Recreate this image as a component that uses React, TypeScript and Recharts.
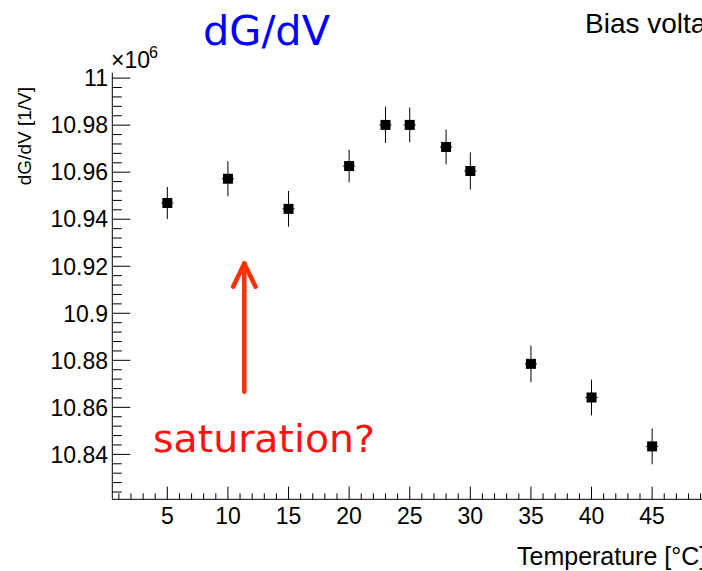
import React from 'react';
import { ScatterChart, Scatter, XAxis, YAxis, ErrorBar, ReferenceLine } from 'recharts';

// ---- data ----
const temperatures = [5, 10, 15, 20, 23, 25, 28, 30, 35, 40, 45];
const dGdV = [10.9469, 10.9572, 10.9444, 10.9626, 10.9801, 10.9801, 10.9707, 10.9605, 10.8785, 10.8642, 10.8434];
const dGdVErr = [0.0068, 0.0075, 0.0076, 0.0069, 0.0077, 0.0074, 0.0074, 0.0079, 0.0078, 0.0076, 0.0076];
const tempErr = [0.5, 0.5, 0.5, 0.5, 0.5, 0.5, 0.5, 0.5, 0.5, 0.5, 0.5];

const xMajorTicks = [5, 10, 15, 20, 25, 30, 35, 40, 45];
const yMajorTickLabels = ['10.84', '10.86', '10.88', '10.9', '10.92', '10.94', '10.96', '10.98', '11'];

// annotation arrow in data coordinates
const arrowX = 11.35;
const arrowYBottom = 10.8666;
const arrowYTip = 10.9212;
const arrowYWing = 10.9113;
const arrowWingX = [10.43, 12.28];

const xDomain = [0.46, 49.61];
const yDomain = [10.8209, 11.0023];

// minor tick positions (styling)
const xTicks = Array.from({ length: 49 }, (_, i) => i + 1);
const yTicks = Array.from({ length: 45 }, (_, i) => Math.round((10.824 + i * 0.004) * 1000) / 1000);

const data = temperatures.map((t, i) => ({ t, v: dGdV[i], ve: dGdVErr[i], te: tempErr[i] }));

const FONT = "'Liberation Sans', Arial, Helvetica, sans-serif";
const COMIC = "'Comic Sans MS', 'DejaVu Sans', sans-serif";

const isXMajor = (v: number) => xMajorTicks.includes(v);
const isYMajor = (v: number) => Math.round(v * 1000) % 20 === 0;
const yLabel = (v: number) => {
  const idx = yMajorTickLabels.findIndex((s) => Math.abs(parseFloat(s) - v) < 1e-6);
  return idx >= 0 ? yMajorTickLabels[idx] : String(v);
};

const BottomTick = (props: any) => {
  const { x, y, payload } = props;
  const v = payload.value;
  const major = isXMajor(v);
  return (
    <g>
      <line x1={x} x2={x} y1={y} y2={y - (major ? 12.7 : 6)} stroke="#000" strokeWidth={1} />
      {major && (
        <text x={x} y={y + 25} textAnchor="middle" fontSize={23} fontFamily={FONT} fill="#000">
          {v}
        </text>
      )}
    </g>
  );
};

const TopTick = (props: any) => {
  const { x, y, payload } = props;
  const major = isXMajor(payload.value);
  return <line x1={x} x2={x} y1={y} y2={y + (major ? 12 : 6)} stroke="#000" strokeWidth={1} />;
};

const LeftTick = (props: any) => {
  const { x, y, payload } = props;
  const v = payload.value;
  const major = isYMajor(v);
  return (
    <g>
      <line x1={x} x2={x + (major ? 18 : 9.5)} y1={y} y2={y} stroke="#000" strokeWidth={1} />
      {major && (
        <text x={x - 4.3} y={y} dy="0.36em" textAnchor="end" fontSize={23} fontFamily={FONT} fill="#000">
          {yLabel(v)}
        </text>
      )}
    </g>
  );
};

const RightTick = (props: any) => {
  const { x, y, payload } = props;
  const major = isYMajor(payload.value);
  return <line x1={x} x2={x - (major ? 18 : 9.5)} y1={y} y2={y} stroke="#000" strokeWidth={1} />;
};

const SquareMarker = (props: any) => {
  const { cx, cy } = props;
  if (cx == null || cy == null) return null;
  return <rect x={cx - 5} y={cy - 5} width={10} height={10} fill="#000" />;
};

const ARROW = '#ff3000';

export default function App() {
  return (
    <div style={{ position: 'absolute', left: 0, top: 0, width: 702, height: 571, overflow: 'hidden', background: '#fff' }}>
      <ScatterChart width={720} height={571} margin={{ top: 72.7, right: 12, bottom: 31.7, left: 0 }}>
        <XAxis
          xAxisId="bottom"
          dataKey="t"
          type="number"
          domain={xDomain}
          allowDataOverflow
          ticks={xTicks}
          interval={0}
          height={40}
          tickSize={0}
          tickMargin={0}
          tickLine={false}
          axisLine={{ stroke: '#000', strokeWidth: 1 }}
          tick={BottomTick}
        />
        <XAxis
          xAxisId="top"
          orientation="top"
          type="number"
          domain={xDomain}
          allowDataOverflow
          ticks={xTicks}
          interval={0}
          height={0}
          tickSize={0}
          tickMargin={0}
          tickLine={false}
          axisLine={{ stroke: '#000', strokeWidth: 1 }}
          tick={TopTick}
        />
        <YAxis
          yAxisId="left"
          dataKey="v"
          type="number"
          domain={yDomain}
          allowDataOverflow
          ticks={yTicks}
          interval={0}
          width={112.3}
          tickSize={0}
          tickMargin={0}
          tickLine={false}
          axisLine={{ stroke: '#000', strokeWidth: 1 }}
          tick={LeftTick}
        />
        <YAxis
          yAxisId="right"
          orientation="right"
          type="number"
          domain={yDomain}
          allowDataOverflow
          ticks={yTicks}
          interval={0}
          width={0}
          tickSize={0}
          tickMargin={0}
          tickLine={false}
          axisLine={{ stroke: '#000', strokeWidth: 1 }}
          tick={RightTick}
        />
        <ReferenceLine
          xAxisId="bottom"
          yAxisId="left"
          segment={[{ x: arrowX, y: arrowYBottom }, { x: arrowX, y: arrowYTip }]}
          stroke={ARROW}
          strokeWidth={4.5}
          strokeLinecap="round"
          ifOverflow="visible"
        />
        <ReferenceLine
          xAxisId="bottom"
          yAxisId="left"
          segment={[{ x: arrowWingX[0], y: arrowYWing }, { x: arrowX, y: arrowYTip }]}
          stroke={ARROW}
          strokeWidth={4.5}
          strokeLinecap="round"
          ifOverflow="visible"
        />
        <ReferenceLine
          xAxisId="bottom"
          yAxisId="left"
          segment={[{ x: arrowWingX[1], y: arrowYWing }, { x: arrowX, y: arrowYTip }]}
          stroke={ARROW}
          strokeWidth={4.5}
          strokeLinecap="round"
          ifOverflow="visible"
        />
        <Scatter
          xAxisId="bottom"
          yAxisId="left"
          data={data}
          dataKey="v"
          isAnimationActive={false}
          shape={SquareMarker}
        >
          <ErrorBar dataKey="ve" direction="y" width={0} stroke="#000" strokeWidth={1} isAnimationActive={false} />
          <ErrorBar dataKey="te" direction="x" width={0} stroke="#000" strokeWidth={1} isAnimationActive={false} />
        </Scatter>
      </ScatterChart>
      <svg
        width={702}
        height={571}
        style={{ position: 'absolute', left: 0, top: 0, pointerEvents: 'none' }}
      >
        <text x={203} y={45} fontSize={40} fontFamily={COMIC} fill="#0000ff" textLength={127} lengthAdjust="spacingAndGlyphs">
          dG/dV
        </text>
        <text x={585} y={33} fontSize={28} fontFamily={FONT} fill="#000">
          Bias voltage
        </text>
        <text x={111} y={68} fontSize={23} fontFamily={FONT} fill="#000">
          ×10
        </text>
        <text x={149} y={58} fontSize={16} fontFamily={FONT} fill="#000">
          6
        </text>
        <text
          x={31}
          y={87}
          fontSize={19}
          fontFamily={FONT}
          fill="#000"
          textAnchor="end"
          transform="rotate(-90 31 87)"
        >
          dG/dV [1/V]
        </text>
        <text x={517} y={565} fontSize={25} fontFamily={FONT} fill="#000">
          Temperature [°C]
        </text>
        <text x={153} y={452} fontSize={37} fontFamily={COMIC} fill="#ff1111" textLength={222} lengthAdjust="spacingAndGlyphs">
          saturation?
        </text>
      </svg>
    </div>
  );
}
